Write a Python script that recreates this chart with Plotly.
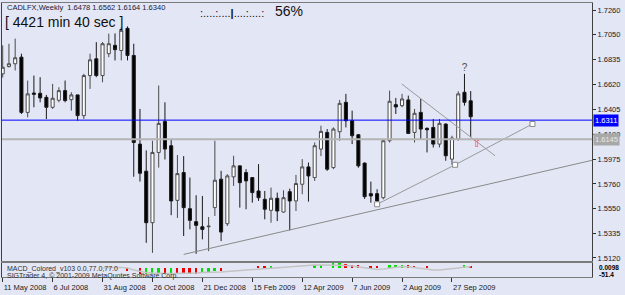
import plotly.graph_objects as go

# ---------------- data ----------------
opens = [1.6711, 1.6774, 1.6798, 1.6855, 1.6378, 1.6545, 1.6543, 1.6508, 1.6422, 1.6483,
         1.6566, 1.6488, 1.6529, 1.6350, 1.6696, 1.6841, 1.6696, 1.6885, 1.6957, 1.6913,
         1.7104, 1.6870, 1.6104, 1.5870, 1.5425, 1.6032, 1.6300, 1.6090, 1.5618, 1.5858,
         1.5546, 1.5434, 1.5390, 1.5390, 1.5555, 1.5801, 1.5416, 1.5821, 1.5916, 1.5858,
         1.5815, 1.5699, 1.5627, 1.5532, 1.5636, 1.5517, 1.5693, 1.5613, 1.5757, 1.5907,
         1.5815, 1.6061, 1.6205, 1.5901, 1.6211, 1.6465, 1.6306, 1.6185, 1.5940, 1.5676,
         1.5676, 1.5641, 1.6133, 1.6445, 1.6436, 1.6486, 1.6205, 1.6378, 1.6240, 1.6248,
         1.6104, 1.6277, 1.5974, 1.6148, 1.6552, 1.6478]
highs = [1.6957, 1.6971, 1.7015, 1.6885, 1.6653, 1.6696, 1.6682, 1.6529, 1.6624, 1.6595,
         1.6653, 1.6552, 1.6529, 1.6711, 1.6885, 1.6985, 1.6985, 1.7058, 1.7060, 1.7113,
         1.7121, 1.6971, 1.6408, 1.6050, 1.6133, 1.6610, 1.6465, 1.6150, 1.6009, 1.6000,
         1.5815, 1.5662, 1.5656, 1.5474, 1.6133, 1.5873, 1.5844, 1.6003, 1.5916, 1.5887,
         1.5815, 1.5931, 1.5699, 1.5728, 1.5685, 1.5705, 1.5719, 1.5838, 1.5974, 1.5945,
         1.6118, 1.6263, 1.6234, 1.6248, 1.6486, 1.6538, 1.6393, 1.6191, 1.5945, 1.5780,
         1.5714, 1.6147, 1.6566, 1.6503, 1.6538, 1.6523, 1.6408, 1.6494, 1.6248, 1.6321,
         1.6321, 1.6283, 1.6176, 1.6560, 1.6711, 1.6562]
lows = [1.6679, 1.6766, 1.6740, 1.6364, 1.6335, 1.6422, 1.6465, 1.6321, 1.6408, 1.6465,
        1.6465, 1.6393, 1.6306, 1.6321, 1.6581, 1.6682, 1.6638, 1.6855, 1.6827, 1.6827,
        1.6827, 1.5822, 1.5780, 1.5251, 1.5164, 1.5901, 1.5971, 1.5490, 1.5466, 1.5310,
        1.5367, 1.5156, 1.5281, 1.5179, 1.5483, 1.5266, 1.5396, 1.5743, 1.5555, 1.5541,
        1.5598, 1.5613, 1.5454, 1.5425, 1.5439, 1.5511, 1.5359, 1.5526, 1.5671, 1.5607,
        1.5786, 1.6000, 1.5873, 1.5887, 1.6133, 1.6248, 1.6104, 1.5900, 1.5630, 1.5598,
        1.5595, 1.5627, 1.6118, 1.6364, 1.6422, 1.6191, 1.6118, 1.6148, 1.6032, 1.6075,
        1.6075, 1.5960, 1.5925, 1.6133, 1.6436, 1.6164]
closes = [1.6768, 1.6798, 1.6850, 1.6378, 1.6538, 1.6535, 1.6503, 1.6422, 1.6500, 1.6566,
          1.6480, 1.6529, 1.6350, 1.6696, 1.6832, 1.6696, 1.6971, 1.6971, 1.6920, 1.7087,
          1.6870, 1.6118, 1.5852, 1.5425, 1.6032, 1.6283, 1.6061, 1.5613, 1.5849, 1.5555,
          1.5445, 1.5402, 1.5367, 1.5395, 1.5792, 1.5344, 1.5829, 1.5916, 1.5771, 1.5786,
          1.5685, 1.5641, 1.5541, 1.5636, 1.5526, 1.5641, 1.5613, 1.5763, 1.5907, 1.5829,
          1.6090, 1.6214, 1.5887, 1.6234, 1.6456, 1.6306, 1.6176, 1.5916, 1.5650, 1.5656,
          1.5613, 1.6133, 1.6474, 1.6425, 1.6494, 1.6196, 1.6370, 1.6234, 1.6228, 1.6104,
          1.6283, 1.6003, 1.6156, 1.6538, 1.6465, 1.6340]
bar_idx = list(range(len(opens)))

tick_idx = [0, 8, 16, 24, 32, 40, 48, 56, 64, 72]
tick_labels = ["11 May 2008", "6 Jul 2008", "31 Aug 2008", "26 Oct 2008", "21 Dec 2008",
               "15 Feb 2009", "12 Apr 2009", "7 Jun 2009", "2 Aug 2009", "27 Sep 2009"]
price_ticks = [1.7260, 1.7050, 1.6835, 1.6620, 1.6405, 1.6190, 1.5975, 1.5760, 1.5550, 1.5335, 1.5120]

blue_level = 1.6311
gray_level = 1.6145

# trend lines (bar index, price)
long_line_x = [29, 94.44]
long_line_y = [1.5151, 1.5964]
down_line_x = [63.94, 78.9]
down_line_y = [1.6624, 1.6003]
up_line_x = [60, 72.5, 84.9]
up_line_y = [1.5584, 1.5925, 1.6278]

arrow_x, arrow_y = [76], [1.6101]
qmark_x, qmark_y = [74], [1.6755]

# MACD colored histogram (bar index, value, rising?)
macd_idx = [20, 22, 23, 24, 25, 26, 27, 28, 29, 30, 31, 32, 33, 34, 35,
            41, 42, 43, 50, 51, 53, 54, 55, 56, 57, 59, 60, 62, 63, 64, 65, 66, 68, 74, 75]
macd_val = [-0.3, -0.6, -0.6, -0.6, -0.5, -0.5, -0.5, -0.6, -0.6, -0.6, -0.6, -0.5, -0.4, -0.3, -0.3,
            0.25, 0.25, 0.25, 0.3, 0.3, 0.5, 0.5, 0.4, 0.35, 0.3, 0.2, 0.2, 0.3, 0.35, 0.35, 0.3, 0.25, 0.2, 0.3, 0.25]
macd_rising = [0, 0, 1, 1, 1, 0, 1, 0, 0, 0, 0, 1, 1, 1, 0,
               0, 0, 1, 1, 1, 1, 1, 0, 0, 0, 0, 0, 1, 1, 1, 0, 0, 0, 1, 0]
sig_idx = list(range(16, 76))
sig_val = [0.0, 0.05, 0.05, 0.05, 0.0,
           -0.2, -0.35, -0.45, -0.5, -0.55, -0.55, -0.55, -0.55, -0.55, -0.5, -0.5, -0.45, -0.45, -0.4, -0.4,
           -0.35, -0.3, -0.3, -0.25, -0.2, -0.15, -0.1, -0.05, 0.0, 0.05,
           0.1, 0.15, 0.2, 0.25, 0.3, 0.3, 0.3, 0.3,
           0.28, 0.25, 0.2, 0.1, 0.0, -0.1, -0.15,
           -0.1, 0.0, 0.1, 0.15, 0.12, 0.05,
           -0.05, -0.15, -0.2, -0.2, -0.15, -0.1,
           0.0, 0.1, 0.12]

# ---------------- figure ----------------
BG = "#e3e6f4"
FONT = "Liberation Sans"
W, H = 625, 295
ML, MR, MT, MB = 2, 33, 3, 18
PH = H - MT - MB
PW = W - ML - MR


def px_x(px):
    return (px - ML) / PW


def px_y(py):
    return (H - MB - py) / PH


fig = go.Figure()

fig.add_trace(go.Candlestick(
    x=bar_idx, open=opens, high=highs, low=lows, close=closes,
    increasing=dict(line=dict(color="#4a4a4a", width=1), fillcolor="white"),
    decreasing=dict(line=dict(color="#181818", width=1), fillcolor="black"),
    whiskerwidth=0, showlegend=False, hoverinfo="skip",
    xaxis="x", yaxis="y"))

fig.add_trace(go.Scatter(x=long_line_x, y=long_line_y, mode="lines",
                         line=dict(color="#8a8a8a", width=1), showlegend=False,
                         xaxis="x", yaxis="y"))
fig.add_trace(go.Scatter(x=down_line_x, y=down_line_y, mode="lines",
                         line=dict(color="#9a9a9a", width=1), showlegend=False,
                         xaxis="x", yaxis="y"))
fig.add_trace(go.Scatter(x=up_line_x, y=up_line_y, mode="lines+markers",
                         line=dict(color="#9a9a9a", width=1),
                         marker=dict(symbol="square", size=5, color="white",
                                     line=dict(color="#8a8a8a", width=1)),
                         showlegend=False, xaxis="x", yaxis="y"))
fig.add_trace(go.Scatter(x=arrow_x, y=arrow_y, mode="text", text=["⇧"],
                         textfont=dict(color="#ff5050", size=12, family="DejaVu Sans"),
                         showlegend=False, xaxis="x", yaxis="y"))
fig.add_trace(go.Scatter(x=qmark_x, y=qmark_y, mode="text", text=["?"],
                         textfont=dict(color="#505050", size=10, family=FONT),
                         showlegend=False, xaxis="x", yaxis="y"))

# MACD panel
fig.add_trace(go.Scatter(x=sig_idx, y=sig_val, mode="lines",
                         line=dict(color="#c4c4c4", width=1.5), showlegend=False,
                         xaxis="x2", yaxis="y2"))
fig.add_trace(go.Bar(x=macd_idx, y=macd_val,
                     marker=dict(color=["#00dd00" if r else "#ee0000" for r in macd_rising],
                                 line=dict(width=0)),
                     width=0.3, showlegend=False, xaxis="x2", yaxis="y2"))

main_bottom = px_y(261)
ind_top = px_y(263)
xr = [(2 - 2.7) / 6.24, (592 - 2.7) / 6.24]

fig.update_layout(
    width=W, height=H,
    margin=dict(l=ML, r=MR, t=MT, b=MB, autoexpand=False),
    paper_bgcolor=BG, plot_bgcolor=BG,
    font=dict(family=FONT, size=8, color="#202020"),
    showlegend=False,
    bargap=0,
    xaxis=dict(domain=[0, 1], range=xr, anchor="y", showticklabels=False, ticks="",
               showgrid=False, zeroline=False, showline=True, mirror=True,
               linecolor="#7a7a7a", linewidth=1, rangeslider=dict(visible=False),
               automargin=False),
    yaxis=dict(domain=[main_bottom, 1], range=[1.5094, 1.7323], side="right", anchor="x",
               tickvals=price_ticks, ticktext=["%.4f" % v for v in price_ticks],
               ticks="outside", ticklen=3, tickcolor="#303030",
               tickfont=dict(size=7.5, color="#202020", family=FONT),
               showgrid=False, zeroline=False, showline=True, mirror=True,
               linecolor="#404040", linewidth=1, automargin=False),
    xaxis2=dict(domain=[0, 1], range=xr, anchor="y2",
                tickvals=tick_idx, ticktext=tick_labels, tickangle=0,
                ticks="outside", ticklen=4, tickcolor="#303030",
                ticklabelposition="outside right", ticklabelstandoff=3,
                tickfont=dict(size=7.5, color="#202020", family=FONT),
                showgrid=False, zeroline=False, showline=True, mirror=True,
                linecolor="#7a7a7a", linewidth=1, automargin=False),
    yaxis2=dict(domain=[0, ind_top], range=[-0.9, 0.5], anchor="x2", side="right",
                showticklabels=False, ticks="", showgrid=False, zeroline=False,
                showline=True, mirror=True, linecolor="#404040", linewidth=1,
                automargin=False),
)

fig.add_shape(type="line", xref="x domain", yref="y", x0=0, x1=1, y0=gray_level, y1=gray_level,
              line=dict(color="#b4b4b4", width=2))
fig.add_shape(type="line", xref="x domain", yref="y", x0=0, x1=1, y0=blue_level, y1=blue_level,
              line=dict(color="#0000ff", width=1))

annots = [
    dict(text="CADLFX,Weekly  1.6478 1.6562 1.6164 1.6340", x=px_x(5), y=px_y(7.5),
         font=dict(size=7.5, color="#1a1a3a")),
    dict(text="[ 4421 min 40 sec ]", x=px_x(3), y=px_y(22), font=dict(size=14, color="#101010")),
    dict(text=":....:....<b>|</b>....:....:", x=px_x(198), y=px_y(13),
         font=dict(size=11, color="#101010")),
    dict(text="56%", x=px_x(273), y=px_y(11), font=dict(size=14, color="#101010")),
    dict(text="MACD_Colored_v103 0.0,77.0,77.0", x=px_x(5), y=px_y(268.5),
         font=dict(size=7, color="#303030")),
    dict(text="SIGTrader 4, © 2001-2009 MetaQuotes Software Corp.", x=px_x(5), y=px_y(275.5),
         font=dict(size=7, color="#303030")),
    dict(text="<b>0.0098</b>", x=px_x(597), y=px_y(267), font=dict(size=6.5, color="#000000")),
    dict(text="<b>-51.4</b>", x=px_x(597), y=px_y(274), font=dict(size=6.5, color="#000000")),
]
for a in annots:
    fig.add_annotation(xref="paper", yref="paper", xanchor="left", yanchor="middle",
                       showarrow=False, **a)

fig.add_annotation(xref="paper", yref="y", x=1, y=blue_level, xanchor="left", yanchor="middle",
                   xshift=1, text="1.6311", showarrow=False, bgcolor="#0000ff",
                   font=dict(size=7.5, color="white", family=FONT), borderpad=1)
fig.add_annotation(xref="paper", yref="y", x=1, y=gray_level, xanchor="left", yanchor="middle",
                   xshift=1, text="1.6145", showarrow=False, bgcolor="#a8a8a8",
                   font=dict(size=7.5, color="#e8e8e8", family=FONT), borderpad=1)

fig.write_html("out.html")
